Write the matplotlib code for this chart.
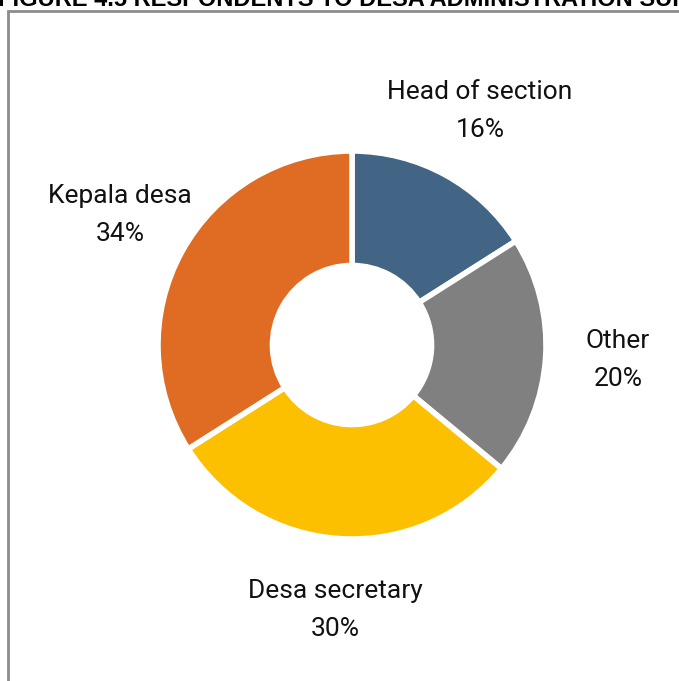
import matplotlib.pyplot as plt
from matplotlib.patches import Rectangle

# Respondent roles
labels = ["Head of section", "Other", "Desa secretary", "Kepala desa"]
shares = [16, 20, 30, 34]
colors = ["#426585", "#808080", "#FDC000", "#E06C23"]

plt.rcParams['font.family'] = ['Roboto', 'DejaVu Sans']

W, H = 679, 681
fig = plt.figure(figsize=(W / 100, H / 100), dpi=100)

# frame around the chart area
fig.patches.append(Rectangle((8 / W, -0.1), 1.2, (H - 11) / H + 0.1,
                             transform=fig.transFigure, fill=False,
                             edgecolor="#8c8c8c", linewidth=2))

# caption, mostly cut off at the top edge
fig.text(-0.003, (H - 6) / H, "FIGURE 4.5 RESPONDENTS TO DESA ADMINISTRATION SURVEY",
         fontsize=17, fontweight="bold", ha="left", va="baseline",
         family=["Liberation Sans", "DejaVu Sans"])

cx, cy, r = 352, 345, 194
ax = fig.add_axes([(cx - r) / W, (H - cy - r) / H, 2 * r / W, 2 * r / H])
ax.pie(shares, colors=colors, startangle=90, counterclock=False, radius=1,
       wedgeprops=dict(width=0.59, edgecolor="white", linewidth=4))
ax.set_xlim(-1, 1)
ax.set_ylim(-1, 1)
ax.set_aspect("equal")
ax.axis("off")

# label positions in pixels
label_pos = [(480, 111), (618, 360), (335, 610), (120, 215)]
for (px, py), name, val in zip(label_pos, labels, shares):
    fig.text(px / W, (H - py) / H, f"{name}\n{val}%", ha="center", va="center",
             fontsize=19, linespacing=1.75, color="#111111")

fig.savefig("out.png", dpi=100)
